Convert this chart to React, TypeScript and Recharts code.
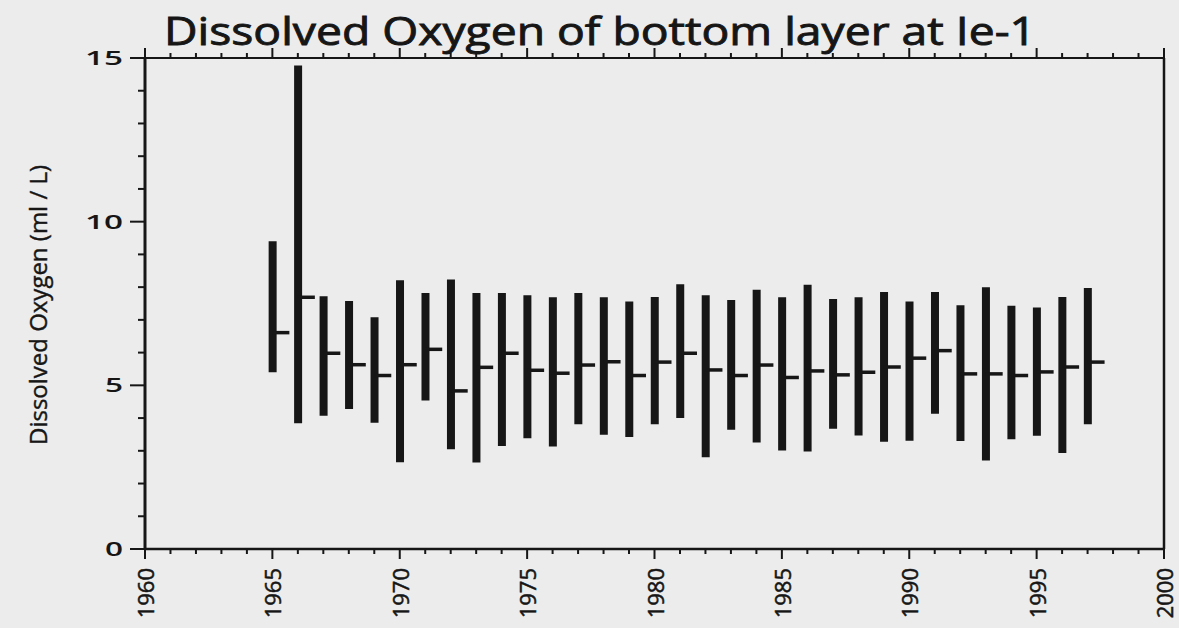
import React from 'react';
import { ComposedChart, Bar, Scatter, XAxis, YAxis } from 'recharts';

const years = [1965, 1966, 1967, 1968, 1969, 1970, 1971, 1972, 1973, 1974, 1975, 1976, 1977, 1978, 1979, 1980, 1981, 1982, 1983, 1984, 1985, 1986, 1987, 1988, 1989, 1990, 1991, 1992, 1993, 1994, 1995, 1996, 1997];
const minValues = [5.4, 3.84, 4.07, 4.28, 3.86, 2.65, 4.54, 3.05, 2.64, 3.15, 3.38, 3.13, 3.81, 3.49, 3.42, 3.81, 4.0, 2.8, 3.64, 3.25, 3.01, 2.98, 3.67, 3.47, 3.28, 3.31, 4.13, 3.3, 2.7, 3.35, 3.46, 2.93, 3.81];
const maxValues = [9.4, 14.77, 7.72, 7.58, 7.08, 8.21, 7.82, 8.23, 7.82, 7.82, 7.75, 7.69, 7.82, 7.69, 7.56, 7.7, 8.09, 7.75, 7.61, 7.92, 7.69, 8.07, 7.64, 7.69, 7.85, 7.56, 7.85, 7.45, 8.0, 7.43, 7.38, 7.7, 7.97];
const meanValues = [6.61, 7.69, 5.98, 5.63, 5.3, 5.63, 6.1, 4.83, 5.55, 5.98, 5.46, 5.37, 5.62, 5.72, 5.3, 5.71, 5.98, 5.47, 5.3, 5.62, 5.24, 5.44, 5.32, 5.4, 5.56, 5.83, 6.06, 5.35, 5.35, 5.3, 5.41, 5.56, 5.71];

const xTicks = [1960, 1961, 1962, 1963, 1964, 1965, 1966, 1967, 1968, 1969, 1970, 1971, 1972, 1973, 1974, 1975, 1976, 1977, 1978, 1979, 1980, 1981, 1982, 1983, 1984, 1985, 1986, 1987, 1988, 1989, 1990, 1991, 1992, 1993, 1994, 1995, 1996, 1997, 1998, 1999, 2000];
const xTickLabels = [1960, 1965, 1970, 1975, 1980, 1985, 1990, 1995, 2000];
const yTicks = [0, 1, 2, 3, 4, 5, 6, 7, 8, 9, 10, 11, 12, 13, 14, 15];
const yTickLabels = [0, 5, 10, 15];

const title = 'Dissolved Oxygen of bottom layer at Ie-1';
const yTitle = 'Dissolved Oxygen  (ml / L)';

const data = years.map((year, i) => ({
  year,
  range: [minValues[i], maxValues[i]],
  mean: meanValues[i],
}));

const INK = '#161616';
const FONT = '"Open Sans", "Noto Sans", sans-serif';

const BottomTick = (props: any) => {
  const { x, y, payload } = props;
  const major = xTickLabels.includes(payload.value);
  return (
    <g>
      <line x1={x} x2={x} y1={y} y2={y + (major ? 10 : 5)} stroke={INK} strokeWidth={2} />
      {major && (
        <text
          transform={`translate(${x + 9},${y + 19}) rotate(-90)`}
          textAnchor="end"
          fontSize={22}
          fontFamily={FONT}
          fill={INK}
          stroke={INK}
          strokeWidth={0.5}
        >
          {payload.value}
        </text>
      )}
    </g>
  );
};

const TopTick = (props: any) => {
  const { x, y, payload } = props;
  const major = xTickLabels.includes(payload.value);
  return <line x1={x} x2={x} y1={y} y2={y - (major ? 10 : 5)} stroke={INK} strokeWidth={2} />;
};

const LeftTick = (props: any) => {
  const { x, y, payload } = props;
  const major = yTickLabels.includes(payload.value);
  const label = String(payload.value);
  return (
    <g>
      <line x1={x} x2={x - (major ? 15 : 7)} y1={y} y2={y} stroke={INK} strokeWidth={2} />
      {major && (
        <text
          x={x - 22}
          y={y + 7}
          textAnchor="end"
          fontSize={20}
          fontWeight={600}
          fontFamily={FONT}
          fill={INK}
          textLength={label.length === 1 ? 18 : 38}
          lengthAdjust="spacingAndGlyphs"
        >
          {label}
        </text>
      )}
    </g>
  );
};

const RightTick = (props: any) => {
  const { x, y } = props;
  return <line x1={x} x2={x + 6} y1={y} y2={y} stroke={INK} strokeWidth={2} />;
};

const MeanTick = (props: any) => {
  const { cx, cy } = props;
  return <line x1={cx} x2={cx + 17} y1={cy} y2={cy} stroke={INK} strokeWidth={3.5} />;
};

export default function App() {
  return (
    <div style={{ position: 'absolute', left: 0, top: 0, width: 1179, height: 628, background: '#ececec' }}>
      <ComposedChart
        width={1179}
        height={628}
        data={data}
        margin={{ top: 57, right: 14, bottom: 78, left: 144 }}
      >
        <XAxis
          dataKey="year"
          type="number"
          domain={[1960, 2000]}
          ticks={xTicks}
          interval={0}
          height={1}
          tickSize={0}
          tickMargin={0}
          tick={<BottomTick />}
          axisLine={{ stroke: INK, strokeWidth: 2.5 }}
          tickLine={false}
        />
        <XAxis
          xAxisId="top"
          orientation="top"
          dataKey="year"
          type="number"
          domain={[1960, 2000]}
          ticks={xTicks}
          interval={0}
          height={1}
          tickSize={0}
          tickMargin={0}
          tick={<TopTick />}
          axisLine={{ stroke: INK, strokeWidth: 2 }}
          tickLine={false}
        />
        <YAxis
          type="number"
          domain={[0, 15]}
          ticks={yTicks}
          interval={0}
          width={1}
          tickSize={0}
          tickMargin={0}
          tick={<LeftTick />}
          axisLine={{ stroke: INK, strokeWidth: 3 }}
          tickLine={false}
        />
        <YAxis
          yAxisId="right"
          orientation="right"
          type="number"
          domain={[0, 15]}
          ticks={yTicks}
          interval={0}
          width={1}
          tickSize={0}
          tickMargin={0}
          tick={<RightTick />}
          axisLine={{ stroke: INK, strokeWidth: 2.5 }}
          tickLine={false}
        />
        <Bar dataKey="range" barSize={8} fill={INK} isAnimationActive={false} />
        <Scatter dataKey="mean" shape={<MeanTick />} isAnimationActive={false} />
        <text x={600} y={45} textAnchor="middle" fontSize={39} fontWeight={400} fontFamily={FONT} fill={INK} stroke={INK} strokeWidth={0.9} textLength={872} lengthAdjust="spacingAndGlyphs">
          {title}
        </text>
        <text
          transform="translate(47,305) rotate(-90)"
          textAnchor="middle"
          fontSize={23}
          fontFamily={FONT}
          fill={INK}
          stroke={INK}
          strokeWidth={0.4}
          textLength={280}
          lengthAdjust="spacingAndGlyphs"
        >
          {yTitle}
        </text>
      </ComposedChart>
    </div>
  );
}
